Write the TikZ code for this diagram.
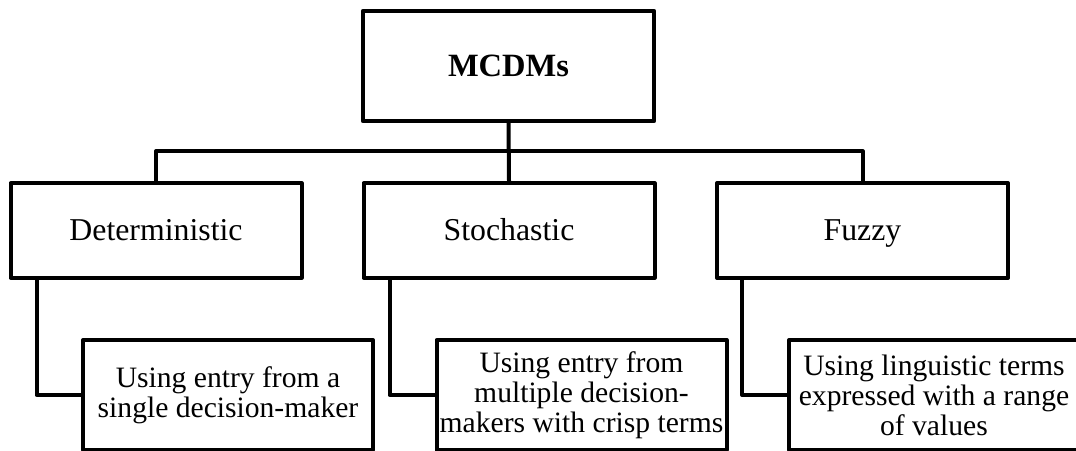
\documentclass[tikz,border=0pt]{standalone}
\usepackage{fontspec}
\setmainfont{Liberation Serif}
\begin{document}
\begin{tikzpicture}[x=1pt,y=-1pt,
  conn/.style={line width=4pt,line join=round},
  topbox/.style={draw,line width=4pt,line join=round,minimum width=291.5pt,minimum height=110pt,inner sep=0pt,text height=21.5pt,text depth=0pt,font=\fontsize{32.5}{34}\selectfont\bfseries},
  catbox/.style={draw,line width=4pt,line join=round,minimum width=291pt,minimum height=94.5pt,inner sep=0pt,text height=20.5pt,text depth=0pt,font=\fontsize{31.8}{34}\selectfont},
  subbox/.style={draw,line width=4pt,line join=round,minimum width=290pt,minimum height=110pt,inner sep=0pt,align=center,font=\fontsize{29.6}{30}\selectfont}]
\useasboundingbox (0,0) rectangle (1076,450);
\clip (0,0) rectangle (1076,450);
\node[topbox] (mcdm) at (508.5,66) {MCDMs};
\node[catbox] (det) at (156,230.5) {Deterministic};
\node[catbox] (sto) at (509,230.5) {Stochastic};
\node[catbox] (fuz) at (862.5,230.5) {Fuzzy};
\node[subbox] (dsub) at (228,395) {Using entry from a\\single decision-maker};
\node[subbox] (ssub) at (581.5,395) {Using entry from\\multiple decision-\\makers with crisp terms};
\node[subbox] (fsub) at (934,395) {Using linguistic terms\\expressed with a range\\of values};
\draw[conn] (mcdm.south) -- (sto.north);
\draw[conn] (det.north) -- ++(0,-30) -| (fuz.north);
\draw[conn] ([xshift=28pt]det.south west) |- (dsub.west);
\draw[conn] ([xshift=28pt]sto.south west) |- (ssub.west);
\draw[conn] ([xshift=27pt]fuz.south west) |- (fsub.west);
\end{tikzpicture}
\end{document}
